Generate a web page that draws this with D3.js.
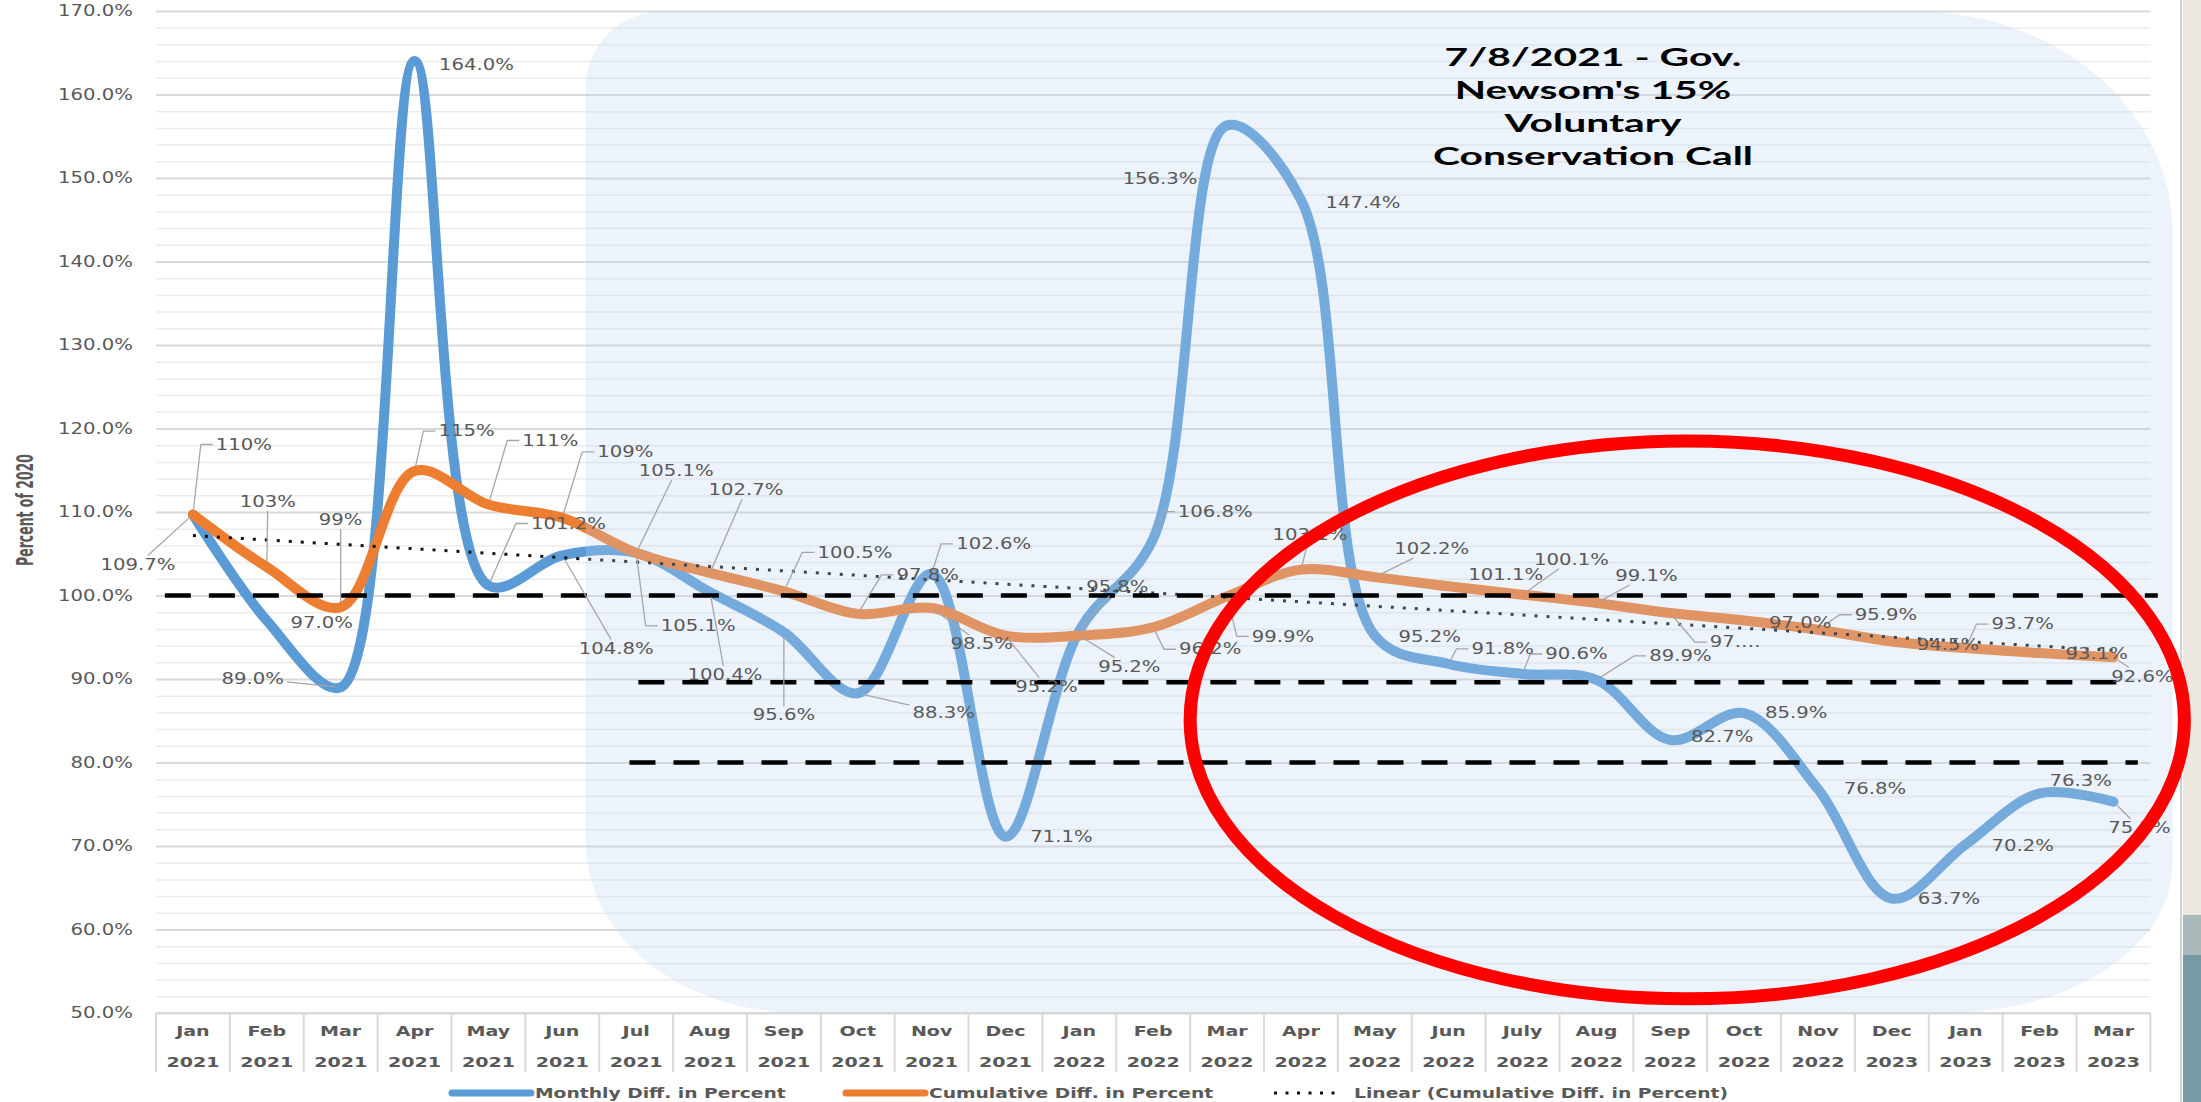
<!DOCTYPE html>
<html lang="en">
<head>
<meta charset="UTF-8">
<title>Monthly and Cumulative Diff. in Percent</title>
<script src="https://d3js.org/d3.v7.min.js"></script>
<style>
  body { margin: 0; background: #fff; }
  svg { display: block; }
  .lbl { font-family: "DejaVu Sans", sans-serif; font-size: 15px; fill: #595959; }
  .cat { font-family: "DejaVu Sans", sans-serif; font-size: 14px; font-weight: bold; fill: #595959; }
  .leg { font-family: "DejaVu Sans", sans-serif; font-size: 14px; font-weight: bold; fill: #595959; }
  .note { font-family: Lato, "Open Sans", sans-serif; font-size: 25px; font-weight: bold; fill: #000; }
  .ytitle { font-family: "Liberation Sans Narrow", "DejaVu Sans Condensed", sans-serif; font-size: 17px; font-weight: bold; fill: #595959; }
  .leader { fill: none; stroke: #a6a6a6; stroke-width: 1.3; }
</style>
</head>
<body>
<script>

// ================== DATA ==================
var months = ["Jan","Feb","Mar","Apr","May","Jun","Jul","Aug","Sep","Oct","Nov","Dec",
              "Jan","Feb","Mar","Apr","May","Jun","July","Aug","Sep","Oct","Nov","Dec",
              "Jan","Feb","Mar"];
var years = ["2021","2021","2021","2021","2021","2021","2021","2021","2021","2021","2021","2021",
             "2022","2022","2022","2022","2022","2022","2022","2022","2022","2022","2022","2023",
             "2023","2023","2023"];
var monthly = [109.7, 97.0, 89.0, 164.0, 101.2, 104.8, 105.1, 100.4, 95.6, 88.3, 102.6, 71.1,
               95.8, 106.8, 156.3, 147.4, 95.2, 91.8, 90.6, 89.9, 82.7, 85.9, 76.8, 63.7,
               70.2, 76.3, 75.3];
var cumulative = [109.7, 103.4, 98.6, 114.9, 110.9, 109.3, 105.1, 102.7, 100.5, 97.8, 98.5, 95.2,
                  95.2, 96.2, 99.9, 103.1, 102.2, 101.1, 100.1, 99.1, 97.9, 97.0, 95.9, 94.5,
                  93.7, 93.1, 92.6];
var yTicks = [50, 60, 70, 80, 90, 100, 110, 120, 130, 140, 150, 160, 170];
var refLevels = [100, 89.6, 80];
var seriesNames = ["Monthly Diff. in Percent", "Cumulative Diff. in Percent",
                   "Linear (Cumulative Diff. in Percent)"];
var noteLines = ["7/8/2021 - Gov.", "Newsom's 15%", "Voluntary", "Conservation Call"];

// ================== LAYOUT ==================
// label offsets from their point in px: [dx, dy, leader] (leader 0 none, 1 elbow, 2 straight)
var monthlyLabelPos = [[-55,50,2],[55,2,0],[-88,-9,2],[62,4,0],[80,-62,1],[54,93,2],[62,73,1],
  [15,83,2],[0,83,2],[86,20,2],[62,-30,1],[56,0,0],[38,-44,2],[62,-27,1],[-67,53,0],[62,3,0],
  [55,1,0],[54,-15,1],[54,-20,1],[84,-24,1],[52,-3,0],[52,0,0],[57,0,0],[57,0,0],[57,1,0],
  [41,-13,0],[26,26,2]];
var cumulativeLabelPos = [[51,-70,1],[1,-65,2],[0,-87,2],[52,-40,1],[62,-64,1],[63,-66,1],
  [40,-82,2],[36,-83,2],[71,-39,1],[70,-39,1],[50,36,2],[41,51,2],[50,31,2],[57,22,1],[56,40,1],
  [9,-35,2],[57,-28,2],[57,-12,0],[49,-35,2],[50,-27,2],[65,29,1],[56,2,0],[68,-15,1],[56,3,0],
  [57,-24,1],[57,1,0],[29,19,2]];
// reference dashes: start/end in category units
var refSpans = [[0.12, 27.1], [6.53, 26.78], [6.41, 26.83]];

var W = 2201, H = 1102;
var x = d3.scaleLinear().domain([0, months.length]).range([156, 2150.4]);
var y = d3.scaleLinear().domain([50, 170]).range([1013, 11]);
var blue = "#5b9bd5", orange = "#ed7d31";

var svg = d3.select("body").append("svg")
    .attr("width", W)
    .attr("height", H);

svg.append("rect").attr("width", W).attr("height", H).attr("fill", "#fff");

// window edge on the right of the screenshot
var edge = svg.append("g");
edge.append("rect").attr("x", 2183).attr("y", 0).attr("width", 18).attr("height", 915).attr("fill", "#ece8e0");
edge.append("rect").attr("x", 2183).attr("y", 915).attr("width", 18).attr("height", 40).attr("fill", "#a9b9ba");
edge.append("rect").attr("x", 2183).attr("y", 955).attr("width", 18).attr("height", 147).attr("fill", "#789aa4");
edge.append("line").attr("x1", 2181).attr("x2", 2181).attr("y1", 0).attr("y2", H)
    .attr("stroke", "#cfcfcf").attr("stroke-width", 2);

function measure(cls, str) {
    var t = svg.append("text").attr("class", cls).text(str);
    var w = t.node().getComputedTextLength();
    t.remove();
    return w;
}
// the screenshot is stretched sideways, so text gets scaled to match widths
var labelStretch = 75 / measure("lbl", "130.0%");
var catStretch = 53 / measure("cat", "2021");
var legStretch = 251 / measure("leg", seriesNames[0]);
var noteStretch = 320 / measure("note", "Conservation Call");

function place(sx) {
    return function(sel) {
        sel.attr("transform", function() {
            var t = d3.select(this);
            var px = +t.attr("data-x"), py = +t.attr("data-y");
            return "translate(" + px + "," + py + ") scale(" + sx + ",1)";
        });
    };
}

// ================== GRID ==================
var minor = d3.range(52, 170, 2).filter(function(d){ return d % 10 !== 0; });
svg.append("g")
    .attr("transform", "translate(" + x(0) + ",0)")
    .call(d3.axisLeft(y).tickValues(minor).tickSize(-(x.range()[1] - x(0))).tickFormat(""))
    .call(function(g){ g.select(".domain").remove(); })
    .selectAll("line").attr("stroke", "#ececec").attr("stroke-width", 1.5);
svg.append("g")
    .attr("transform", "translate(" + x(0) + ",0)")
    .call(d3.axisLeft(y).tickValues(yTicks).tickSize(-(x.range()[1] - x(0))).tickFormat(""))
    .call(function(g){ g.select(".domain").remove(); })
    .selectAll("line").attr("stroke", "#d9d9d9").attr("stroke-width", 2);

// y tick labels
svg.append("g").selectAll("text")
    .data(yTicks)
    .enter().append("text")
    .attr("class", "lbl")
    .attr("text-anchor", "end")
    .attr("dy", "0.35em")
    .attr("data-x", 133)
    .attr("data-y", function(d){ return y(d); })
    .text(function(d){ return d.toFixed(1) + "%"; })
    .call(place(labelStretch));

// y title
var yt = svg.append("text").attr("class", "ytitle").attr("text-anchor", "middle")
    .attr("dy", "0.35em").text("Percent of 2020");
var ytLen = yt.node().getComputedTextLength();
yt.attr("transform", "translate(25,510) rotate(-90) scale(" + (112 / ytLen) + ",1.35)");

// category axis
var catG = svg.append("g");
catG.append("line").attr("x1", x(0)).attr("x2", x(months.length))
    .attr("y1", y(50)).attr("y2", y(50)).attr("stroke", "#d9d9d9").attr("stroke-width", 2);
catG.selectAll(".sep")
    .data(d3.range(months.length + 1))
    .enter().append("line")
    .attr("class", "sep")
    .attr("x1", function(d){ return x(d); }).attr("x2", function(d){ return x(d); })
    .attr("y1", y(50)).attr("y2", y(50) + 59)
    .attr("stroke", "#d9d9d9").attr("stroke-width", 2);
catG.selectAll(".mon")
    .data(months)
    .enter().append("text")
    .attr("class", "cat mon")
    .attr("text-anchor", "middle").attr("dy", "0.35em")
    .attr("data-x", function(d, i){ return x(i + 0.5); })
    .attr("data-y", 1031)
    .text(function(d){ return d; })
    .call(place(catStretch));
catG.selectAll(".yr")
    .data(years)
    .enter().append("text")
    .attr("class", "cat yr")
    .attr("text-anchor", "middle").attr("dy", "0.35em")
    .attr("data-x", function(d, i){ return x(i + 0.5); })
    .attr("data-y", 1062)
    .text(function(d){ return d; })
    .call(place(catStretch));

// ================== SERIES ==================
// centripetal Catmull-Rom keeps the overshoot small, close to Excel's smoothing
var line = d3.line()
    .x(function(d, i){ return x(i + 0.5); })
    .y(function(d){ return y(d); })
    .curve(d3.curveCatmullRom.alpha(0.5));

svg.append("path").datum(monthly)
    .attr("d", line).attr("fill", "none")
    .attr("stroke", blue).attr("stroke-width", 10)
    .attr("stroke-linejoin", "round").attr("stroke-linecap", "round");
svg.append("path").datum(cumulative)
    .attr("d", line).attr("fill", "none")
    .attr("stroke", orange).attr("stroke-width", 10)
    .attr("stroke-linejoin", "round").attr("stroke-linecap", "round");

// linear trendline of the cumulative series (least squares)
var idx = d3.range(cumulative.length);
var mx = d3.mean(idx), my = d3.mean(cumulative);
var slope = d3.sum(idx, function(i){ return (i - mx) * (cumulative[i] - my); }) /
            d3.sum(idx, function(i){ return (i - mx) * (i - mx); });
var trend = idx.map(function(i){ return my + slope * (i - mx); });
svg.append("path").datum(trend)
    .attr("d", d3.line().x(function(d, i){ return x(i + 0.5); }).y(function(d){ return y(d); }))
    .attr("fill", "none").attr("stroke", "#111").attr("stroke-width", 3)
    .attr("stroke-dasharray", "3,9");

// ================== HIGHLIGHT PANEL ==================
var pL = x(5.82), pR = x(27.3), pT = y(169.9), pB = y(50);
var tl = [75, 75], tr = [255, 220], br = [225, 150], bl = [215, 170];
var panel = d3.path();
panel.moveTo(pL + tl[0], pT);
panel.lineTo(pR - tr[0], pT);
var panelD = panel.toString() +
    "A" + tr[0] + "," + tr[1] + " 0 0 1 " + pR + "," + (pT + tr[1]) +
    "L" + pR + "," + (pB - br[1]) +
    "A" + br[0] + "," + br[1] + " 0 0 1 " + (pR - br[0]) + "," + pB +
    "L" + (pL + bl[0]) + "," + pB +
    "A" + bl[0] + "," + bl[1] + " 0 0 1 " + pL + "," + (pB - bl[1]) +
    "L" + pL + "," + (pT + tl[1]) +
    "A" + tl[0] + "," + tl[1] + " 0 0 1 " + (pL + tl[0]) + "," + pT + "Z";
svg.append("path").attr("d", panelD).attr("fill", "rgb(189,212,239)").attr("fill-opacity", 0.27);

// dashed reference levels
svg.append("g").selectAll("line")
    .data(refLevels)
    .enter().append("line")
    .attr("x1", function(d, i){ return x(refSpans[i][0]); })
    .attr("x2", function(d, i){ return x(refSpans[i][1]); })
    .attr("y1", function(d){ return y(d); })
    .attr("y2", function(d){ return y(d); })
    .attr("stroke", "#000").attr("stroke-width", 4.5)
    .attr("stroke-dasharray", "26,18");

// ================== DATA LABELS ==================
var labelLayer = svg.append("g");

function leaderPath(d) {
    var hw = d.w / 2 + 3, hh = 9, p = d3.path(), dx, dy, len;
    if (d.lead === 1) {
        var side = d.cx > d.px ? -1 : 1;
        var ax = d.cx + side * hw, ex = ax + side * 12;
        dx = ex - d.px; dy = d.cy - d.py; len = Math.hypot(dx, dy) || 1;
        p.moveTo(d.px + dx / len * 5, d.py + dy / len * 5);
        p.lineTo(ex, d.cy);
        p.lineTo(ax, d.cy);
        return p.toString();
    }
    dx = d.cx - d.px; dy = d.cy - d.py; len = Math.hypot(dx, dy) || 1;
    var t = Math.min(hw / Math.max(Math.abs(dx), 1e-6), hh / Math.max(Math.abs(dy), 1e-6));
    p.moveTo(d.px + dx / len * 5, d.py + dy / len * 5);
    p.lineTo(d.cx - dx * t, d.cy - dy * t);
    return p.toString();
}

function drawLabels(values, pos, fmt) {
    var items = values.map(function(v, i) {
        var px = x(i + 0.5), py = y(v);
        var text = fmt(v, i);
        return { text: text, px: px, py: py, cx: px + pos[i][0], cy: py + pos[i][1],
                 lead: pos[i][2], w: measure("lbl", text) * labelStretch };
    });
    labelLayer.selectAll(null)
        .data(items.filter(function(d){ return d.lead; }))
        .enter().append("path")
        .attr("class", "leader")
        .attr("d", leaderPath);
    labelLayer.selectAll(null)
        .data(items)
        .enter().append("text")
        .attr("class", "lbl")
        .attr("text-anchor", "middle").attr("dy", "0.35em")
        .attr("data-x", function(d){ return d.cx; })
        .attr("data-y", function(d){ return d.cy; })
        .text(function(d){ return d.text; })
        .call(place(labelStretch));
}

drawLabels(monthly, monthlyLabelPos, function(v){ return v.toFixed(1) + "%"; });
drawLabels(cumulative, cumulativeLabelPos, function(v, i){
    if (i === 20) return "97.\u2026";          // truncated in the original
    return i < 6 ? Math.round(v) + "%" : v.toFixed(1) + "%";
});

// ================== NOTE ==================
svg.append("g").selectAll("text")
    .data(noteLines)
    .enter().append("text")
    .attr("class", "note")
    .attr("text-anchor", "middle").attr("dy", "0.35em")
    .attr("data-x", 1593)
    .attr("data-y", function(d, i){ return 57 + i * 33; })
    .text(function(d){ return d; })
    .call(place(noteStretch));

// red ellipse drawn around the last months
var ringC = [20.73, 85.1], ringR = [6.73, 33.4];
svg.append("ellipse")
    .attr("cx", x(ringC[0]))
    .attr("cy", y(ringC[1]))
    .attr("rx", x(ringC[0] + ringR[0]) - x(ringC[0]))
    .attr("ry", y(ringC[1]) - y(ringC[1] + ringR[1]))
    .attr("fill", "none").attr("stroke", "#ff0000").attr("stroke-width", 13);

// ================== LEGEND ==================
var legendX = [452, 846, 1274], swatchLen = [79, 79, 67], legendY = 1093;
var leg = svg.append("g").selectAll("g")
    .data(seriesNames)
    .enter().append("g");
leg.append("line")
    .attr("x1", function(d, i){ return legendX[i]; })
    .attr("x2", function(d, i){ return legendX[i] + swatchLen[i]; })
    .attr("y1", legendY).attr("y2", legendY)
    .attr("stroke", function(d, i){ return [blue, orange, "#111"][i]; })
    .attr("stroke-width", function(d, i){ return i < 2 ? 7 : 3; })
    .attr("stroke-linecap", function(d, i){ return i < 2 ? "round" : "butt"; })
    .attr("stroke-dasharray", function(d, i){ return i < 2 ? null : "3,8.5"; });
leg.append("text")
    .attr("class", "leg")
    .attr("dy", "0.35em")
    .attr("data-x", function(d, i){ return legendX[i] + swatchLen[i] + 4 + (i === 2 ? 9 : 0); })
    .attr("data-y", legendY)
    .text(function(d){ return d; })
    .call(place(legStretch));

</script>
</body>
</html>
